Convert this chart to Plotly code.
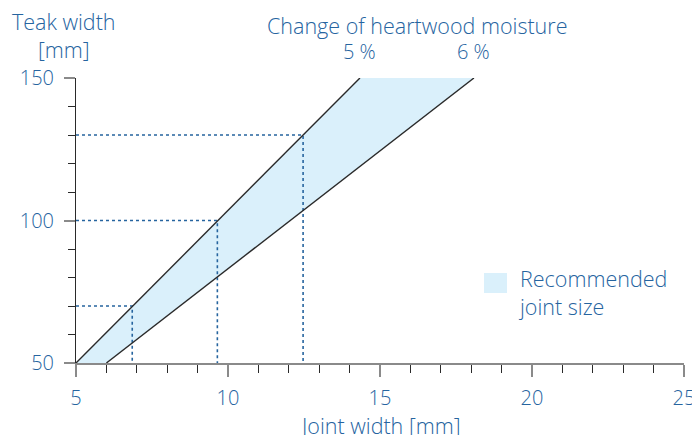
import plotly.graph_objects as go

# --- data ---
teak_width = [50, 150]                      # mm (y)
joint_5pct = [5.0, 14.34]                   # joint width for 5 % moisture change
joint_6pct = [6.0, 18.09]                   # joint width for 6 % moisture change
moisture_labels = ["5 %", "6 %"]
guide_teak = [70, 100, 130]                 # example teak widths
guide_joint = [6.85, 9.65, 12.47]           # corresponding joint widths (5 % line)
x_ticks = [5, 10, 15, 20, 25]
y_ticks = [50, 100, 150]

BLUE = "#26649f"
FILL = "#daf0fb"
LINE = "#2a2a2a"
GRAY = "#8a8a8a"
FONT = "Open Sans"
FS = 21.5
TFS = 20

OFF = 8  # page body margin
W, H = 700, 435
L, R, T, B = 76 - OFF, 16 + OFF, 78 - OFF, 72 + OFF
def px(x): return (x - OFF - L) / (W - L - R)
def py(y): return (H - B - (y - OFF)) / (H - T - B)

def f(size=FS):
    return dict(size=size, color=BLUE, family=FONT, weight=300)

fig = go.Figure()

# shaded recommended band
fig.add_trace(go.Scatter(
    x=joint_5pct + joint_6pct[::-1],
    y=teak_width + teak_width[::-1],
    fill="toself", fillcolor=FILL, mode="none", hoverinfo="skip", showlegend=False))

# guide lines (dotted)
for tw, jw in zip(guide_teak, guide_joint):
    fig.add_trace(go.Scatter(x=[x_ticks[0], jw, jw], y=[tw, tw, y_ticks[0]],
                             mode="lines", line=dict(color=BLUE, width=1.6, dash="dot"),
                             hoverinfo="skip", showlegend=False))

# moisture lines
for xs in (joint_5pct, joint_6pct):
    fig.add_trace(go.Scatter(x=xs, y=teak_width, mode="lines",
                             line=dict(color=LINE, width=1.4), hoverinfo="skip", showlegend=False))

# labels of moisture lines
for lab, xs in zip(moisture_labels, (joint_5pct, joint_6pct)):
    fig.add_annotation(x=xs[1], y=py(52), xref="x", yref="paper", text=lab, showarrow=False,
                       xanchor="center", yanchor="middle", font=f(TFS))

fig.add_annotation(x=px(417), y=py(25), xref="paper", yref="paper", text="Change of heartwood moisture",
                   showarrow=False, xanchor="center", yanchor="middle", font=f())

fig.add_annotation(x=px(64), y=py(36), xref="paper", yref="paper", text="Teak width<br>[mm]",
                   showarrow=False, align="center", xanchor="center", yanchor="middle",
                   borderpad=0, font=f())

fig.add_annotation(x=px(380), y=py(425), xref="paper", yref="paper", text="Joint width [mm]",
                   showarrow=False, xanchor="center", yanchor="middle", font=f())

# legend
fig.add_shape(type="rect", xref="paper", yref="paper", x0=px(484), x1=px(507), y0=py(293), y1=py(273),
              fillcolor=FILL, line=dict(width=0))
fig.add_annotation(x=px(516), y=py(292), xref="paper", yref="paper", text="Recommended<br>joint size",
                   showarrow=False, align="left", xanchor="left", yanchor="middle", font=f())

fig.update_layout(
    width=W, height=H,
    margin=dict(l=L, r=R, t=T, b=B, autoexpand=False),
    plot_bgcolor="white", paper_bgcolor="white",
    font=dict(family=FONT, color=BLUE, size=FS),
    showlegend=False,
)

fig.update_xaxes(range=[5, 25], tickvals=x_ticks, showgrid=False, zeroline=False, automargin=False,
                 showline=True, linecolor=GRAY, linewidth=2,
                 ticks="outside", ticklen=12, tickwidth=2, tickcolor=GRAY,
                 minor=dict(dtick=1, ticks="outside", ticklen=8, tickwidth=1, tickcolor=LINE, showgrid=False),
                 tickfont=f(TFS), ticklabelstandoff=4)
fig.update_yaxes(range=[50, 150], tickvals=y_ticks, showgrid=False, zeroline=False, automargin=False,
                 showline=True, linecolor=LINE, linewidth=1,
                 ticks="outside", ticklen=11, tickwidth=2, tickcolor=GRAY,
                 minor=dict(dtick=10, ticks="outside", ticklen=7, tickwidth=1, tickcolor=LINE, showgrid=False),
                 tickfont=f(TFS), ticklabelstandoff=6)

fig.write_html("out.html")
